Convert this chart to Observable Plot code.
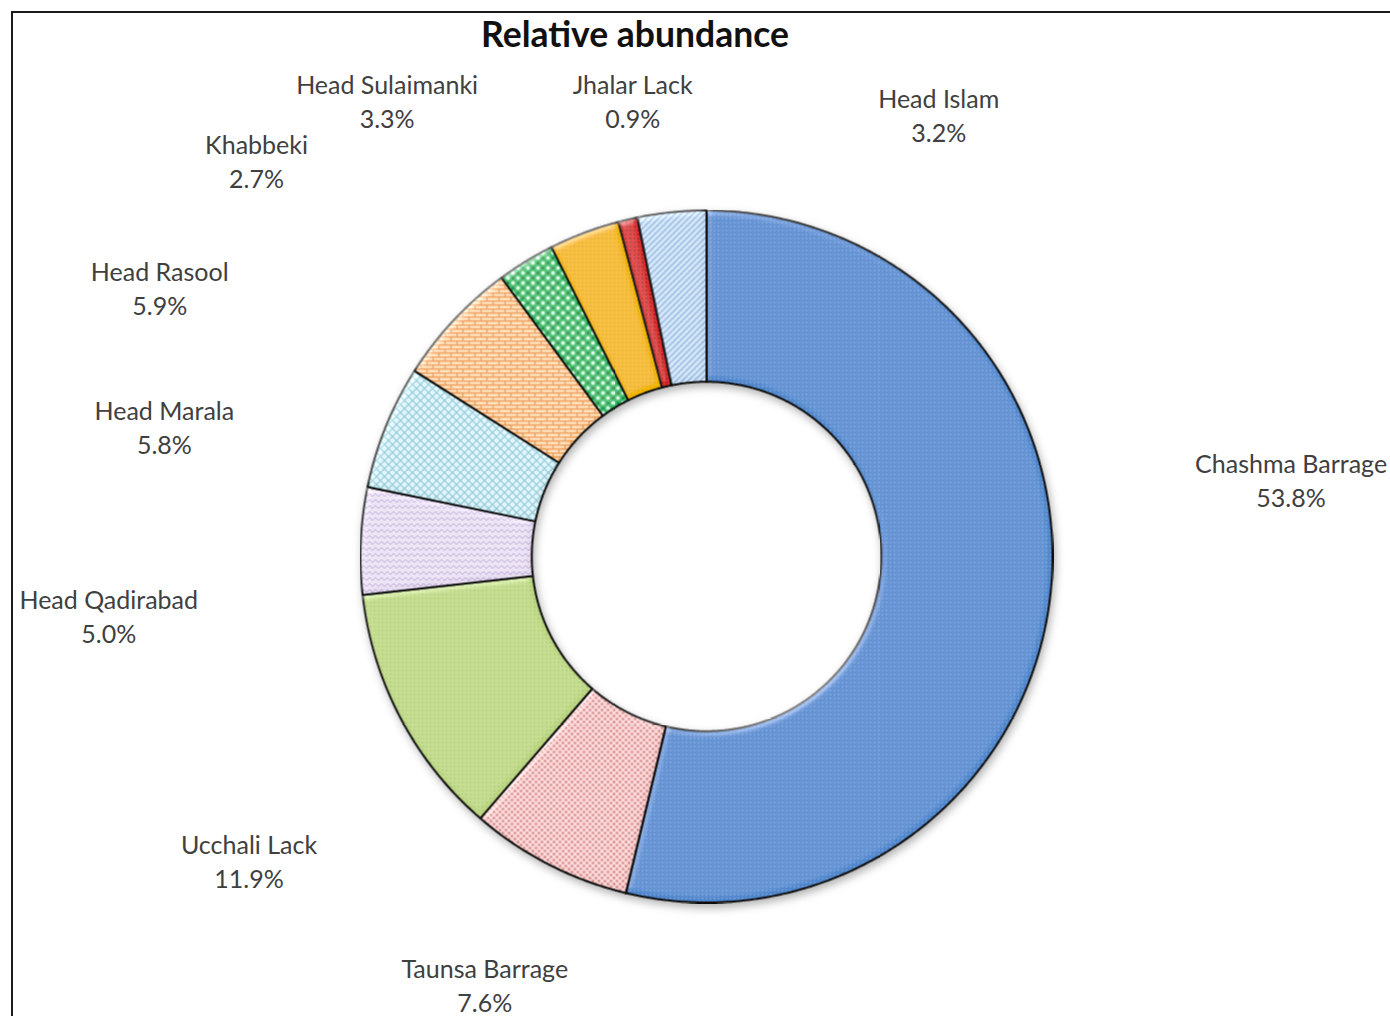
<!DOCTYPE html>
<html><head><meta charset="utf-8">
<script src="https://cdn.jsdelivr.net/npm/d3@7"></script>
<script src="https://cdn.jsdelivr.net/npm/@observablehq/plot@0.6"></script>
<style>
html,body{margin:0;padding:0;background:#fff;overflow:hidden;width:1390px;height:1016px;}
#frame{position:absolute;left:11px;top:11px;width:1500px;height:1100px;border-left:2px solid #1a1a1a;border-top:2px solid #1a1a1a;}
#title{position:absolute;left:0;top:13px;width:1270px;text-align:center;font:bold 35.5px Lato, sans-serif;color:#111;line-height:42px;}
#chart{position:absolute;left:0;top:60px;}
</style></head><body>
<div id="frame"></div>
<div id="title">Relative abundance</div>
<div id="chart"></div>
<script>
// ---- data ----
const sites = ["Chashma Barrage","Taunsa Barrage","Ucchali Lack","Head Qadirabad","Head Marala","Head Rasool","Khabbeki","Head Sulaimanki","Jhalar Lack","Head Islam"];
const abundance = [53.8, 7.6, 11.9, 5.0, 5.8, 5.9, 2.7, 3.3, 0.9, 3.2];
const siteColors = ["#5a8fd2","#efc5c5","#bfd888","#e0d7ec","#d6eef4","#f9d1a6","#4ec27b","#f2b808","#d92828","#c2d7ee"];

// ---- layout (label nudges in px, relative to mid-angle point) ----
const labelNudge = [[52,-140],[23,-50],[17,54],[-62,83],[-45,71],[-155,97],[-170,61],[-130,45],[48,66],[286,91]];
const W = 1390, H = 956, SVG_TOP = 60, CX = 706, CY = 556, R = 346, HOLE = 0.505, LABEL_R = 1.55;

// ---- geometry ----
const total = d3.sum(abundance);
let acc = 0;
const slices = sites.map((name, i) => {
  const a0 = acc / total * 2 * Math.PI; acc += abundance[i];
  const a1 = acc / total * 2 * Math.PI;
  return {name, value: abundance[i], a0, a1, mid: (a0 + a1) / 2, i};
});
const ringPts = slices.flatMap(s => {
  const n = Math.max(4, Math.ceil((s.a1 - s.a0) / (Math.PI / 360)));
  const angs = d3.range(n + 1).map(k => s.a0 + (s.a1 - s.a0) * k / n);
  return [
    ...angs.map(a => ({name: s.name, x: Math.sin(a), y: Math.cos(a)})),
    ...angs.slice().reverse().map(a => ({name: s.name, x: HOLE * Math.sin(a), y: HOLE * Math.cos(a)}))
  ];
});
const labels = slices.map(s => ({
  text: s.name + "\n" + s.value.toFixed(1) + "%",
  x: LABEL_R * Math.sin(s.mid) + labelNudge[s.i][0] / R,
  y: LABEL_R * Math.cos(s.mid) - labelNudge[s.i][1] / R
}));

const plot = Plot.plot({
  width: W, height: H, margin: 0,
  x: {domain: [-CX / R, (W - CX) / R], axis: null},
  y: {domain: [-(SVG_TOP + H - CY) / R, (CY - SVG_TOP) / R], axis: null},
  color: {domain: sites, range: siteColors},
  style: {background: "transparent", overflow: "visible", fontFamily: "Lato, sans-serif"},
  marks: [
    Plot.line(ringPts, {x: "x", y: "y", z: "name", fill: "name", stroke: "#111", strokeWidth: 2, curve: "linear-closed"}),
    Plot.text(labels, {x: "x", y: "y", text: "text", fontSize: 25, lineHeight: 1.36, fill: "#404040", textAnchor: "middle", lineAnchor: "middle"})
  ]
});

// ---- decorative patterns & bevel (styles) ----
const ns = "http://www.w3.org/2000/svg";
const defs = document.createElementNS(ns, "defs");
defs.innerHTML = `
<pattern id="pat0" width="4" height="4" patternUnits="userSpaceOnUse"><rect width="4" height="4" fill="#5086cb"/><circle cx="2" cy="2" r="0.9" fill="#73a2dd"/></pattern>
<pattern id="pat1" width="6" height="6" patternUnits="userSpaceOnUse"><rect width="6" height="6" fill="#f5d4d4"/><circle cx="1.5" cy="1.5" r="1.3" fill="#d27d7d"/><circle cx="4.5" cy="4.5" r="1.3" fill="#d27d7d"/></pattern>
<pattern id="pat2" width="4" height="4" patternUnits="userSpaceOnUse"><rect width="4" height="4" fill="#bdd785"/><circle cx="2" cy="2" r="0.8" fill="#a0bd5e"/></pattern>
<pattern id="pat3" width="6" height="6" patternUnits="userSpaceOnUse"><rect width="6" height="6" fill="#e6ddf0"/><path d="M0,4 L3,1 L6,4" fill="none" stroke="#b6a6d0" stroke-width="1"/></pattern>
<pattern id="pat4" width="8" height="8" patternUnits="userSpaceOnUse"><rect width="8" height="8" fill="#def2f7"/><path d="M0,0 L8,8 M8,0 L0,8" stroke="#8fc6d5" stroke-width="1.3"/></pattern>
<pattern id="pat5" width="12" height="8" patternUnits="userSpaceOnUse"><rect width="12" height="8" fill="#fcdcb8"/><path d="M0,0.5 H12 M0,4.5 H12 M0.5,0.5 V4.5 M6.5,4.5 V8" stroke="#e8964c" stroke-width="1.4" fill="none"/></pattern>
<pattern id="pat6" width="10" height="10" patternUnits="userSpaceOnUse"><rect width="10" height="10" fill="#3cbb6b"/><circle cx="2.5" cy="2.5" r="1.9" fill="#d2f4dd"/><circle cx="7.5" cy="7.5" r="1.9" fill="#d2f4dd"/><circle cx="7.5" cy="2.5" r="1.5" fill="#158a40"/><circle cx="2.5" cy="7.5" r="1.5" fill="#158a40"/></pattern>
<pattern id="pat7" width="4" height="4" patternUnits="userSpaceOnUse"><rect width="4" height="4" fill="#f2b705"/><circle cx="2" cy="2" r="0.8" fill="#d99a00"/></pattern>
<pattern id="pat8" width="4" height="4" patternUnits="userSpaceOnUse"><rect width="4" height="4" fill="#db2a2a"/><circle cx="2" cy="2" r="0.9" fill="#a01212"/></pattern>
<pattern id="pat9" width="6" height="6" patternUnits="userSpaceOnUse"><rect width="6" height="6" fill="#d0e1f3"/><path d="M-1,1 L1,-1 M0,6 L6,0 M5,7 L7,5" stroke="#8db2da" stroke-width="1.5"/></pattern>
<filter id="bevel" x="-10%" y="-10%" width="120%" height="120%">
  <feGaussianBlur in="SourceAlpha" stdDeviation="3" result="blur"/>
  <feSpecularLighting in="blur" surfaceScale="3" specularConstant="0.3" specularExponent="18" lighting-color="#ffffff" result="spec">
    <feDistantLight azimuth="235" elevation="40"/>
  </feSpecularLighting>
  <feComposite in="spec" in2="SourceAlpha" operator="in" result="specIn"/>
  <feComposite in="SourceGraphic" in2="specIn" operator="arithmetic" k1="0" k2="1" k3="1" k4="0"/>
</filter>
<filter id="shadow" x="-10%" y="-10%" width="120%" height="120%">
  <feDropShadow dx="2" dy="4" stdDeviation="4" flood-color="#000" flood-opacity="0.3"/>
</filter>`;
plot.prepend(defs);
const ringG = plot.querySelector('g[aria-label="line"]');
if (ringG) {
  ringG.setAttribute("filter", "url(#shadow)");
  ringG.querySelectorAll("path").forEach(p => {
    const idx = siteColors.indexOf(p.getAttribute("fill"));
    if (idx >= 0) { p.setAttribute("fill", `url(#pat${idx})`); p.setAttribute("filter", "url(#bevel)"); }
  });
}
document.getElementById("chart").appendChild(plot);
</script>
</body></html>
